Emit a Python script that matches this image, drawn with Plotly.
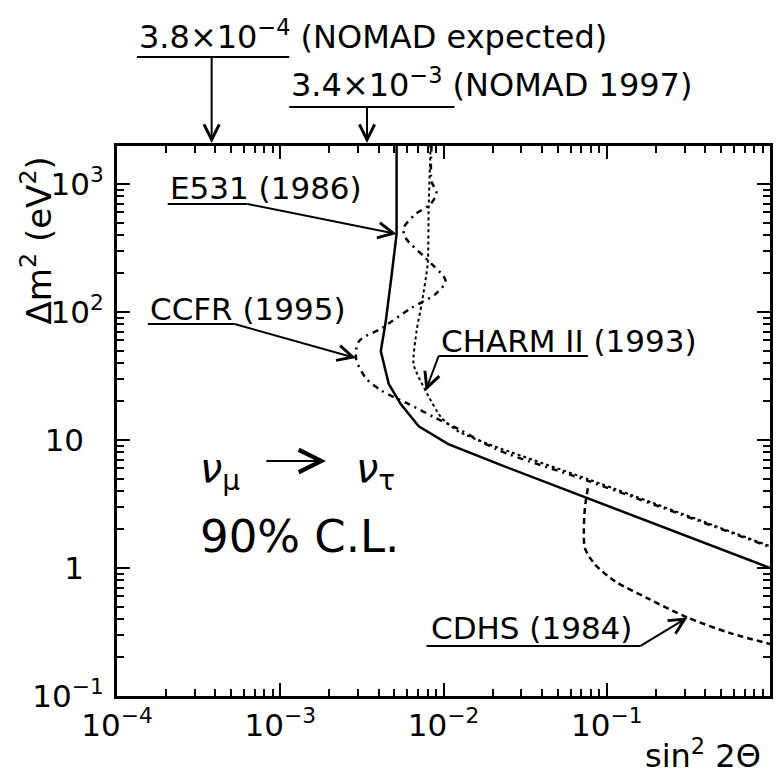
import numpy as np
import plotly.graph_objects as go

FONT = "DejaVu Sans"

# ---------------- data ----------------
# E531 (1986) - solid
e531_sin2 = [0.00516, 0.00516, 0.00482, 0.00443, 0.00413, 0.00462, 0.00547, 0.00705, 0.0107, 0.0216, 1.0]
e531_dm2 = [2000, 407, 198, 85, 49.5, 27.4, 19.1, 12.8, 9.3, 6.5, 1.0]

# CCFR (1995) - dash-dot
ccfr_sin2 = [0.00845, 0.00845, 0.00906, 0.00834, 0.00675, 0.00570, 0.00586, 0.00776, 0.0103, 0.00893,
             0.00638, 0.00419, 0.00303, 0.00291, 0.00334, 0.00419, 0.00612, 0.00893, 0.0123, 0.0216,
             0.0766, 1.0]
ccfr_dm2 = [2000, 1050, 851, 698, 583, 453, 379, 264, 175, 138,
            108, 75, 59, 43.7, 30.5, 24.2, 19.1, 14.9, 12.2, 8.35,
            4.8, 1.46]

# CHARM II (1993) - fine dots
charm_sin2 = [0.00834, 0.00811, 0.00800, 0.00734, 0.00684, 0.00656, 0.00777, 0.00972, 0.0123, 0.0188, 0.0766, 1.0]
charm_dm2 = [2000, 650, 237, 115, 71, 39, 24.2, 14.9, 11.7, 9.3, 4.95, 1.48]

# CDHS (1984) - dashed
cdhs_sin2 = [0.0766, 0.0735, 0.0724, 0.0735, 0.0845, 0.112, 0.178, 0.312, 0.57, 1.0]
cdhs_dm2 = [4.2, 2.94, 1.95, 1.43, 1.07, 0.79, 0.58, 0.41, 0.31, 0.255]

# NOMAD sensitivities marked above the frame
nomad_limits = [3.8e-4, 3.4e-3]
nomad_labels = ["3.8×10<sup>−4</sup> (NOMAD expected)", "3.4×10<sup>−3</sup> (NOMAD 1997)"]

# tick labels
x_tickvals = [1e-4, 1e-3, 1e-2, 1e-1]
x_ticktext = ["10<sup>−4</sup>", "10<sup>−3</sup>", "10<sup>−2</sup>", "10<sup>−1</sup>"]
y_tickvals = [0.1, 1, 10, 100, 1000]
y_ticktext = ["10<sup>−1</sup>", "1\u00a0\u00a0", "10\u00a0\u00a0", "10<sup>2</sup>", "10<sup>3</sup>"]

# ---------------- figure ----------------
L = np.log10
fig = go.Figure()

fig.add_trace(go.Scatter(x=e531_sin2, y=e531_dm2, mode="lines",
                         line=dict(color="black", width=2.5), name="E531 (1986)"))
fig.add_trace(go.Scatter(x=ccfr_sin2, y=ccfr_dm2, mode="lines",
                         line=dict(color="black", width=2.5, dash="6px,5px,2px,5px", shape="spline", smoothing=0.8),
                         name="CCFR (1995)"))
fig.add_trace(go.Scatter(x=charm_sin2, y=charm_dm2, mode="lines",
                         line=dict(color="black", width=2, dash="dot", shape="spline", smoothing=0.6),
                         name="CHARM II (1993)"))
fig.add_trace(go.Scatter(x=cdhs_sin2, y=cdhs_dm2, mode="lines",
                         line=dict(color="black", width=2.5, dash="6px,4px", shape="spline", smoothing=0.8),
                         name="CDHS (1984)"))

ann = []


def text(t, x, y, size=31, xref="x", yref="y", xanchor="left", **kw):
    ann.append(dict(text=t, x=x, y=y, xref=xref, yref=yref, xanchor=xanchor, yanchor="middle",
                    showarrow=False, font=dict(family=FONT, size=size, color="black"), **kw))


def seg(x0, y0, x1, y1, head=0, size=1.5):
    # straight leader from (x0, y0) to (x1, y1), log-axis coordinates
    ann.append(dict(text="", x=x1, y=y1, ax=x0, ay=y0, xref="x", yref="y", axref="x", ayref="y",
                    showarrow=True, arrowhead=head, arrowsize=size, arrowwidth=2, arrowcolor="black",
                    standoff=0, startstandoff=0, borderpad=0, borderwidth=0))


# E531 label
text("E531 (1986)", -3.689, 2.969)
seg(-3.689, 2.844, -3.201, 2.844)
seg(-3.201, 2.844, L(e531_sin2[1]), L(e531_dm2[1]), head=5)

# CCFR label
text("CCFR (1995)", -3.811, 2.023)
seg(-3.811, 1.906, -3.280, 1.906)
seg(-3.280, 1.906, L(ccfr_sin2[13]), L(ccfr_dm2[13]), head=5)

# CHARM II label
text("CHARM II (1993)", -2.030, 1.773)
seg(-2.030, 1.656, -1.116, 1.656)
seg(-2.030, 1.656, L(charm_sin2[6]), L(charm_dm2[6]), head=5)

# CDHS label
text("CDHS (1984)", -2.091, -0.469)
seg(-2.104, -0.609, -0.793, -0.609)
seg(-0.793, -0.609, L(cdhs_sin2[7]), L(cdhs_dm2[7]), head=5)

# nu_mu -> nu_tau, 90% C.L.
text("<i>ν</i><sub>μ</sub>", -3.506, 0.758, size=40)
text("<i>ν</i><sub>τ</sub>", -2.549, 0.758, size=40)
seg(-3.085, 0.836, -2.720, 0.836, head=5, size=2.2)
text("90% C.L.", -3.506, 0.25, size=45)

# NOMAD annotations above the frame (paper y)
PLOT_H = 550
tip_y = 1.0055
nomad_text_y = [1.2018, 1.1145]
nomad_line_y = [1.1618, 1.0709]
nomad_text_x = [-3.878, -2.945]
nomad_line_end = [-2.945, -1.933]
for lim, lab, ty, ly, tx, le in zip(nomad_limits, nomad_labels, nomad_text_y, nomad_line_y,
                                    nomad_text_x, nomad_line_end):
    text(lab, tx, ty, size=32, yref="paper")
    ann.append(dict(text="", x=le, y=ly, xref="x", yref="paper", ax=tx, ay=0, axref="x", ayref="pixel",
                    showarrow=True, arrowhead=0, arrowwidth=2, arrowcolor="black",
                    standoff=0, startstandoff=0, borderpad=0, borderwidth=0))
    ann.append(dict(text="", x=L(lim), y=tip_y, xref="x", yref="paper", ax=0, ay=(tip_y - ly) * PLOT_H,
                    axref="pixel", ayref="pixel",
                    showarrow=True, arrowhead=5, arrowsize=1.5, arrowwidth=2, arrowcolor="black",
                    standoff=0, startstandoff=0, borderpad=0, borderwidth=0))

# axis titles
ann.append(dict(text="Δm<sup>2</sup> (eV<sup>2</sup>)", x=-0.1235, y=0.829, xref="paper", yref="paper",
                textangle=-90, showarrow=False, xanchor="center", yanchor="middle",
                font=dict(family=FONT, size=34, color="black")))
ann.append(dict(text="sin<sup>2</sup> 2Θ", x=0.99, y=-0.106, xref="paper", yref="paper",
                showarrow=False, xanchor="right", yanchor="middle",
                font=dict(family=FONT, size=32, color="black")))

x_minor = [m * 10.0 ** e for e in range(-4, 0) for m in range(2, 10)]
y_minor = [m * 10.0 ** e for e in range(-1, 4) for m in range(2, 10)]

axis_common = dict(type="log", showline=True, linewidth=3, linecolor="black", mirror="ticks",
                   ticks="inside", ticklen=13, tickwidth=2, tickcolor="black",
                   showgrid=False, zeroline=False, tickmode="array",
                   tickfont=dict(family=FONT, size=31, color="black"))

fig.update_layout(
    width=776, height=778,
    margin=dict(l=117, r=3, t=146, b=82),
    paper_bgcolor="white", plot_bgcolor="white",
    showlegend=False,
    font=dict(family=FONT, color="black"),
    xaxis=dict(range=[-4, 0], tickvals=x_tickvals, ticktext=x_ticktext,
               minor=dict(tickmode="array", tickvals=x_minor, ticks="inside", ticklen=7,
                          tickwidth=1.5, tickcolor="black", showgrid=False),
               **axis_common),
    yaxis=dict(range=[-1, 3.297], tickvals=y_tickvals, ticktext=y_ticktext,
               minor=dict(tickmode="array", tickvals=y_minor, ticks="inside", ticklen=7,
                          tickwidth=1.5, tickcolor="black", showgrid=False),
               ticklabelstandoff=4,
               **axis_common),
    annotations=ann,
)

fig.write_html("out.html", config={"displayModeBar": False},
               post_script="document.body.style.margin='0';document.body.style.overflow='hidden';")
